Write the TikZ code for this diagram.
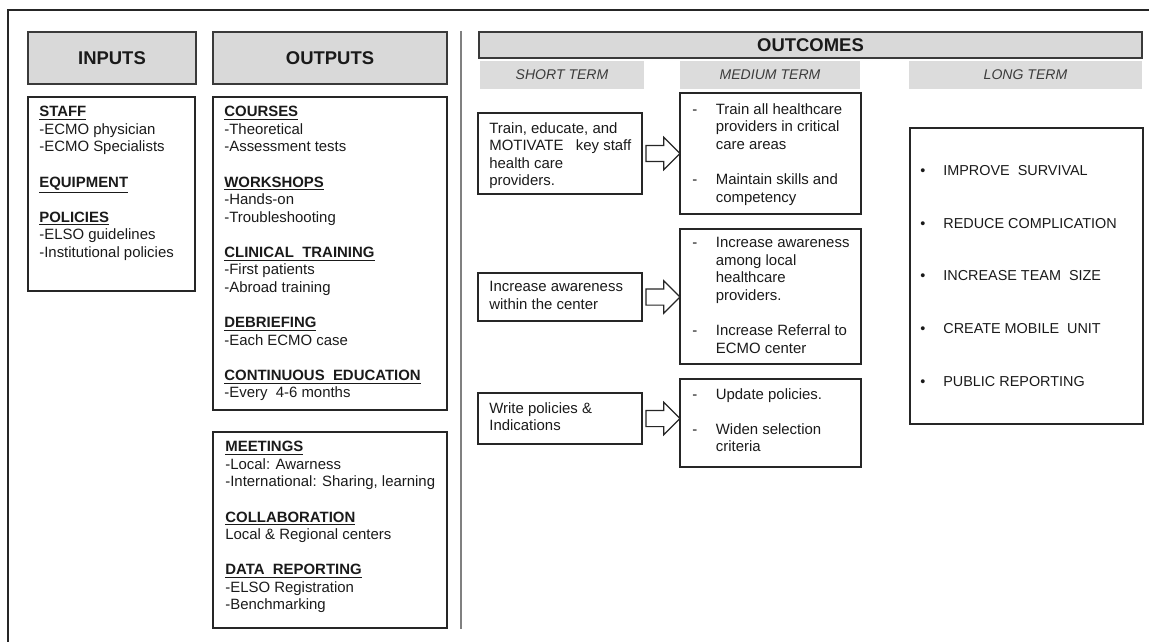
\documentclass[tikz,border=0pt]{standalone}
\usepackage{fontspec}
\setmainfont{Liberation Sans}
\usepackage{xcolor}
\usepackage{tikz}
\usetikzlibrary{positioning,fit,calc,shapes.arrows}
\definecolor{lmHeadFill}{HTML}{D9D9D9}
\definecolor{lmHeadLine}{HTML}{3A3A3A}
\definecolor{lmBand}{HTML}{DCDCDC}
\definecolor{lmLine}{HTML}{262626}
\definecolor{lmText}{HTML}{1A1A1A}
\definecolor{lmRule}{HTML}{808080}
\newcommand{\uhead}[1]{\underline{\textbf{#1}}}
\newcommand{\dsh}{\makebox[0.47cm][l]{-}}
\newcommand{\ind}{\hspace*{0.47cm}}
\newcommand{\bul}{\makebox[0.46cm][l]{\textbullet}}

\begin{document}
\begin{tikzpicture}[
  x=0.02cm,y=-0.02cm,
  hdr/.style={draw=lmHeadLine,fill=lmHeadFill,line width=0.9pt,inner sep=0pt},
  hdrlbl/.style={inner sep=0pt,font=\fontsize{10.5}{12}\selectfont\bfseries,text=lmText},
  band/.style={fill=lmBand,inner sep=0pt},
  bandlbl/.style={inner sep=0pt,font=\fontsize{8}{10}\selectfont\itshape,text=lmText!85},
  box/.style={draw=lmLine,line width=0.9pt,inner sep=0pt},
  txt/.style={anchor=north west,inner sep=0pt,align=left,
    font=\fontsize{8.5}{10}\selectfont,text=lmText},
  blk/.style={single arrow,draw=lmLine,line width=0.7pt,fill=white,
    inner sep=0.15cm,single arrow head extend=0.16cm,minimum height=0.68cm,anchor=tail}
]
\useasboundingbox (0,0) rectangle (1149,642);

% frame and divider
\draw[line width=1pt,lmLine] (8,642) -- (8,10) -- (1149,10);
\draw[line width=1.1pt,lmRule] (461,31) -- (461,629);

% inputs / outputs
\node[hdr,fit={(28,32) (196,84)},label={[hdrlbl]center:INPUTS}] (inhdr) {};
\node[hdr,fit={(213,32) (447,84)},label={[hdrlbl]center:OUTPUTS}] (outhdr) {};
\node[box,fit={(28,97) (195,291)}] (inbox) {};
\node[box,fit={(213,97) (447,410)}] (outbox) {};
\node[box,fit={(213,432) (447,628)}] (outbox2) {};

\node[txt] (intxt) at (39,106) {\uhead{STAFF}\\-ECMO physician\\-ECMO Specialists\\[10pt]
  \uhead{EQUIPMENT}\\[10pt]
  \uhead{POLICIES}\\-ELSO guidelines\\-Institutional policies};
\node[txt] (outtxt) at (224,106) {\uhead{COURSES}\\-Theoretical\\-Assessment tests\\[10pt]
  \uhead{WORKSHOPS}\\-Hands-on\\-Troubleshooting\\[10pt]
  \uhead{CLINICAL~~TRAINING}\\-First patients\\-Abroad training\\[10pt]
  \uhead{DEBRIEFING}\\-Each ECMO case\\[10pt]
  \uhead{CONTINUOUS~~EDUCATION}\\-Every~~4-6 months};
\node[txt] (outtxt2) at (225,441) {\uhead{MEETINGS}\\-Local: Awarness\\-International: Sharing, learning\\[10pt]
  \uhead{COLLABORATION}\\Local \& Regional centers\\[10pt]
  \uhead{DATA~~REPORTING}\\-ELSO Registration\\-Benchmarking};

% outcomes
\node[hdr,fit={(479,32) (1142,58)},label={[hdrlbl]center:OUTCOMES}] (ochdr) {};
\node[band,fit={(480,61) (644,89)},label={[bandlbl]center:SHORT TERM}] (shortb) {};
\node[band,fit={(680,61) (860,89)},label={[bandlbl]center:MEDIUM TERM}] (medb) {};
\node[band,fit={(909,61) (1142,89)},label={[bandlbl]center:LONG TERM}] (longb) {};

\node[box,fit={(478,113) (642,194)}] (s1) {};
\node[box,fit={(478,273) (642,321)}] (s2) {};
\node[box,fit={(478,393) (642,444)}] (s3) {};
\node[box,fit={(680,93) (861,214)}] (m1) {};
\node[box,fit={(680,229) (861,364)}] (m2) {};
\node[box,fit={(680,379) (861,467)}] (m3) {};
\node[box,fit={(910,128) (1143,424)}] (lbox) {};

\node[txt] (s1txt) at (489,122) {Train, educate, and\\MOTIVATE~~~key staff\\health care\\providers.};
\node[txt] (s2txt) at (489,281) {Increase awareness\\within the center};
\node[txt] (s3txt) at (489,402) {Write policies \&\\Indications};

\node[txt] (m1txt) at (692,103) {\dsh Train all healthcare\\\ind providers in critical\\\ind care areas\\[10pt]
  \dsh Maintain skills and\\\ind competency};
\node[txt] (m2txt) at (692,237) {\dsh Increase awareness\\\ind among local\\\ind healthcare\\\ind providers.\\[10pt]
  \dsh Increase Referral to\\\ind ECMO center};
\node[txt] (m3txt) at (692,388) {\dsh Update policies.\\[10pt]
  \dsh Widen selection\\\ind criteria};

\node[txt,font=\fontsize{8.2}{10}\selectfont] (ltxt) at (920,165) {\bul IMPROVE~~SURVIVAL\\[20pt]
  \bul REDUCE COMPLICATION\\[20pt]
  \bul INCREASE TEAM~~SIZE\\[20pt]
  \bul CREATE MOBILE~~UNIT\\[20pt]
  \bul PUBLIC REPORTING};

% block arrows short -> medium
\node[blk] (a1) at ([xshift=0.05cm]s1.east) {};
\node[blk] (a2) at ([xshift=0.05cm]s2.east) {};
\node[blk] (a3) at ([xshift=0.05cm]s3.east) {};
\end{tikzpicture}
\end{document}
